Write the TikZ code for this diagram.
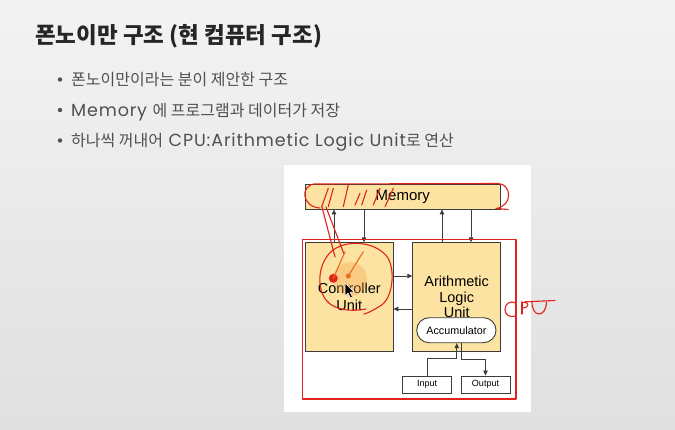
\documentclass[tikz,border=0pt]{standalone}
\usepackage{fontspec}
\setmainfont{Liberation Sans}
\newfontfamily\kr{Noto Sans CJK KR}
\newfontfamily\lat[LetterSpace=5]{Poppins}
\usetikzlibrary{arrows.meta}

\definecolor{bgtop}{HTML}{F3F3F3}
\definecolor{bgbot}{HTML}{E0E0E0}
\definecolor{unitfill}{HTML}{FCE3A2}
\definecolor{edge}{HTML}{3C3C3C}
\definecolor{pen}{HTML}{E0241B}
\definecolor{glow}{HTML}{F5A04A}
\definecolor{dotb}{HTML}{EE6A1E}
\definecolor{bodytext}{HTML}{505050}
\definecolor{titletext}{HTML}{262626}

\newcommand\latin[1]{{\lat\fontsize{17.5}{18}\selectfont #1}}

\begin{document}
\begin{tikzpicture}[x=1pt,y=-1pt,
  unit/.style={draw=edge, line width=0.9pt, fill=unitfill, inner sep=0pt, align=center,
    font=\fontsize{14.5}{16.5}\selectfont},
  io/.style={draw=edge, line width=0.9pt, fill=white, minimum width=49pt, minimum height=17pt,
    inner sep=0pt, font=\fontsize{9}{10}\selectfont},
  flow/.style={draw=edge, line width=0.8pt, -{Triangle[length=5pt,width=4.5pt]}},
  ink/.style={draw=pen, line width=1.1pt, line cap=round, line join=round},
  bulletline/.style={anchor=base west, inner sep=0pt, text=bodytext,
    font=\kr\fontsize{16}{18}\selectfont},
  bulletdot/.style={fill=bodytext}]

% slide background and picture panel
\shade[top color=bgtop, bottom color=bgbot] (0,0) rectangle (675,429);
\useasboundingbox (0,0) rectangle (675,429);
\fill[white] (284,165) rectangle (531,412);

% heading and bullet points
\node[anchor=base west, inner sep=0pt, text=titletext,
  font=\kr\bfseries\fontsize{22.5}{26}\selectfont] (title) at (35,43)
  {폰노이만 구조 (현 컴퓨터 구조)};

\fill[bulletdot] (60,79.5) circle (2.2);
\node[bulletline] (b1) at (71,85.5) {폰노이만이라는 분이 제안한 구조};
\fill[bulletdot] (60,110) circle (2.2);
\node[bulletline] (b2) at (71,116) {\latin{Memory }에 프로그램과 데이터가 저장};
\fill[bulletdot] (60,140.5) circle (2.2);
\node[bulletline] (b3) at (71,146.5) {하나씩 꺼내어\latin{ CPU:Arithmetic Logic Unit}로 연산};

% architecture blocks
\node[unit, minimum width=195.7pt, minimum height=25pt, font=\fontsize{15}{16}\selectfont] (mem) at (402.8,196.5) {Memory};
\node[unit, minimum width=87.3pt, minimum height=108.3pt] (ctrl) at (349.35,296.85) {Controller\\Unit};
\node[unit, minimum width=88pt, minimum height=108.3pt, font=\fontsize{14.5}{15.3}\selectfont] (alu) at (456.7,296.85) {Arithmetic\\Logic\\Unit};
\node[draw=edge, line width=0.9pt, fill=white, rounded corners=12.5pt, minimum width=79.3pt,
  minimum height=25pt, inner sep=0pt, font=\fontsize{10.8}{12}\selectfont] (acc) at (456.35,330.2) {Accumulator};
\node[io] (in) at (427.2,384.5) {Input};
\node[io] (out) at (485.5,384.5) {Output};

% data paths
\coordinate (cA) at (334,0);
\coordinate (cB) at (364,0);
\coordinate (cC) at (442,0);
\coordinate (cD) at (471,0);
\coordinate (rA) at (0,276);
\coordinate (rB) at (0,309);
\draw[flow] (cA |- ctrl.north) -- (cA |- mem.south);
\draw[flow] (cB |- mem.south) -- (cB |- ctrl.north);
\draw[flow] (cC |- alu.north) -- (cC |- mem.south);
\draw[flow] (cD |- mem.south) -- (cD |- alu.north);
\draw[flow] (ctrl.east |- rA) -- (alu.west |- rA);
\draw[flow] (alu.west |- rB) -- (ctrl.east |- rB);
\draw[flow] (in.north) -- ++(0,-17.5) -| ([xshift=0.4pt]acc.south);
\draw[flow] ([xshift=5.4pt]acc.south) -- ++(0,16.3) -| (out.north);

% pen annotations
\draw[ink] (302.7,239.3) rectangle (516,399);
\draw[ink] (320,208) .. controls (302,207) and (300,186) .. (314,184)
  -- (498,183.5) .. controls (512,184) and (513,206) .. (496,208.5) -- (508,209.5);
\foreach \a/\b/\c/\d in {321.7/206.7/328.3/188.3, 328.3/206.7/333.3/188.3,
  343.3/206.7/348.3/185, 355/205/360/193.3, 361.7/205/366.7/190,
  373.3/205/380/188.3, 385/206.7/393.3/188.3}
  \draw[ink] (\a,\b) -- (\c,\d);
\draw[ink] (322,207) -- (335,257);
\draw[ink] (326,207) -- (344,254);
\draw[ink] (366,309) .. controls (350,312) and (334,310) .. (326,300)
  .. controls (316,287) and (318,262) .. (333,250)
  .. controls (350,238) and (378,243) .. (388,258)
  .. controls (396,272) and (392,300) .. (380,306)
  .. controls (374,310) and (368,313) .. (364,314);
\fill[glow, opacity=0.35] (350,279) circle (17);
\fill[pen] (333.3,278.3) circle (4.5);
\fill[dotb] (348.3,276) circle (2.5);
\draw[ink, draw=dotb] (333.3,278.3) -- (345,251.7);
\draw[ink, draw=dotb] (348.3,276) -- (363.3,251.7);
\draw[fill=black, draw=white, line width=0.5pt, line join=round]
  (345,283) -- (345,296) -- (348,293) -- (350.5,298) -- (352.5,297) -- (350,292) -- (354,292) -- cycle;
% handwritten CPU label
\draw[ink] (516,303) .. controls (510,300) and (505,304) .. (505,309.5)
  .. controls (505,315) and (510,318) .. (516,316);
\draw[ink] (522,302) -- (522,314);
\draw[ink] (522,302.5) .. controls (530,301) and (530,308) .. (522,308);
\draw[ink] (525,301.8) -- (555,300.5);
\draw[ink] (532,302) .. controls (532,318) and (546,318) .. (546.5,302);
\end{tikzpicture}
\end{document}
